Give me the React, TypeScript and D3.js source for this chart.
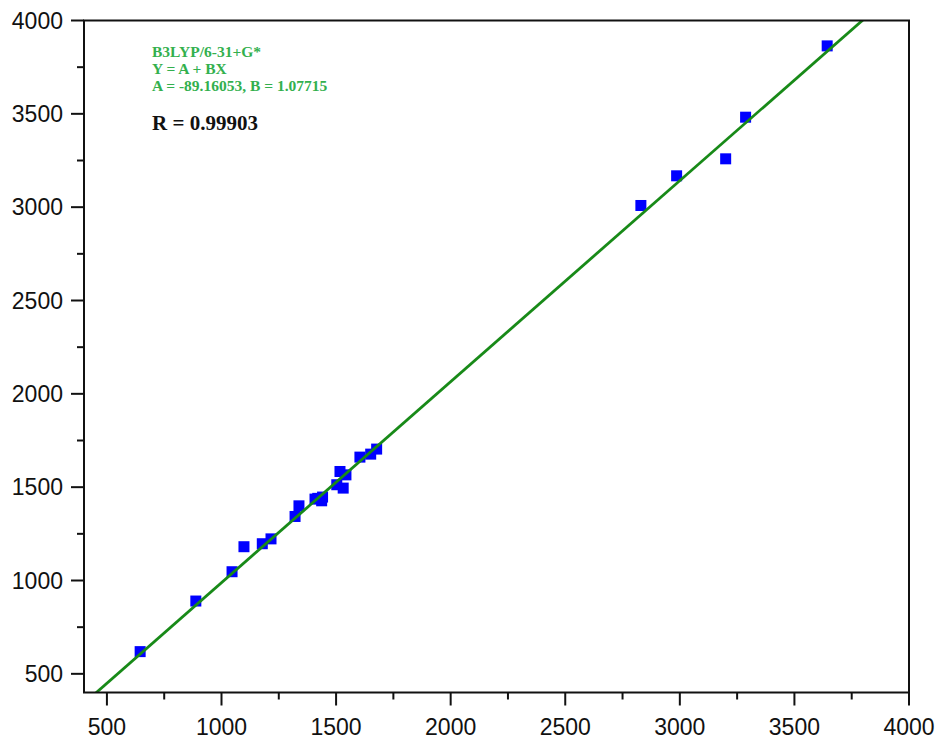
import React from "react";
import * as d3 from "d3";

const expX: number[] = [645, 888, 1046, 1098, 1178, 1216, 1321, 1338, 1408, 1420, 1437, 1441, 1503, 1517, 1531, 1543, 1604, 1651, 1677, 2830, 2986, 3200, 3287, 3643];
const calcY: number[] = [619, 890, 1047, 1181, 1197, 1223, 1343, 1400, 1436, 1440, 1427, 1447, 1513, 1584, 1495, 1566, 1661, 1677, 1704, 3009, 3168, 3259, 3482, 3864];

const xTicks: number[] = [500, 1000, 1500, 2000, 2500, 3000, 3500, 4000];
const yTicks: number[] = [500, 1000, 1500, 2000, 2500, 3000, 3500, 4000];
const xMinor: number[] = [750, 1250, 1750, 2250, 2750, 3250, 3750];
const yMinor: number[] = [750, 1250, 1750, 2250, 2750, 3250, 3750];

const fitA = -89.16053;
const fitB = 1.07715;
const annotLines: string[] = ["B3LYP/6-31+G*", "Y = A + BX", "A = -89.16053, B = 1.07715"];
const rLabel = "R = 0.99903";

export default function App() {
  const W = 941, H = 740;
  const left = 84, right = 909, top = 20.5, bottom = 692.5;
  const x = d3.scaleLinear().domain([400, 4000]).range([left, right]);
  const y = d3.scaleLinear().domain([400, 4000]).range([bottom, top]);

  const fitXs = [400, 4000];
  const line = d3.line<number>().x((d) => x(d)).y((d) => y(fitA + fitB * d));

  const sq = 11;
  const green = "#188a18";
  const txtGreen = "#33b04e";
  const font = "'Liberation Sans', Arial, sans-serif";
  const serif = "'Liberation Serif', 'Times New Roman', serif";

  return (
    <svg width={W} height={H} style={{ position: "absolute", left: 0, top: 0, background: "#fff" }}>
      <defs>
        <clipPath id="plotClip">
          <rect x={left} y={top} width={right - left} height={bottom - top} />
        </clipPath>
      </defs>
      <rect x={0} y={0} width={W} height={H} fill="#fff" />

      <g>
        {expX.map((v, i) => (
          <rect key={i} x={x(v) - sq / 2} y={y(calcY[i]) - sq / 2} width={sq} height={sq} fill="#0000ff" />
        ))}
      </g>

      <path d={line(fitXs) || ""} stroke={green} strokeWidth={2.8} fill="none" clipPath="url(#plotClip)" />

      <rect x={left} y={top} width={right - left} height={bottom - top} fill="none" stroke="#111" strokeWidth={2} />

      {xTicks.map((t) => (
        <g key={"xt" + t}>
          <line x1={x(t)} x2={x(t)} y1={bottom} y2={bottom + 13} stroke="#111" strokeWidth={2} />
          <text x={x(t)} y={735} textAnchor="middle" fontFamily={font} fontSize={23} fill="#111">{t}</text>
        </g>
      ))}
      {xMinor.map((t) => (
        <line key={"xm" + t} x1={x(t)} x2={x(t)} y1={bottom} y2={bottom + 7} stroke="#111" strokeWidth={2} />
      ))}

      {yTicks.map((t) => (
        <g key={"yt" + t}>
          <line x1={left - 13} x2={left} y1={y(t)} y2={y(t)} stroke="#111" strokeWidth={2} />
          <text x={63} y={y(t) + 8} textAnchor="end" fontFamily={font} fontSize={23} fill="#111">{t}</text>
        </g>
      ))}
      {yMinor.map((t) => (
        <line key={"ym" + t} x1={left - 7} x2={left} y1={y(t)} y2={y(t)} stroke="#111" strokeWidth={2} />
      ))}

      {annotLines.map((s, i) => (
        <text key={"an" + i} x={152} y={57.3 + i * 16.7} fontFamily={serif} fontWeight="bold" fontSize={15.5} fill={txtGreen}>{s}</text>
      ))}
      <text x={152} y={130} fontFamily={serif} fontWeight="bold" fontSize={21} fill="#111">{rLabel}</text>
    </svg>
  );
}
